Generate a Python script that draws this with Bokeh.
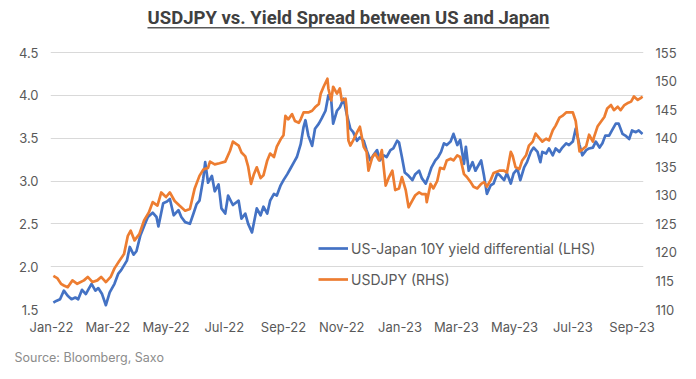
import pandas as pd
from bokeh.plotting import figure
from bokeh.models import (Range1d, LinearAxis, FixedTicker, NumeralTickFormatter,
                          DatetimeTickFormatter, Label, BoxAnnotation, Title)
from bokeh.embed import file_html
from bokeh.resources import INLINE

title_text = "USDJPY vs. Yield Spread between US and Japan"
source_text = "Source: Bloomberg, Saxo"
spread_name = "US-Japan 10Y yield differential (LHS)"
jpy_name = "USDJPY (RHS)"

spread_dates = [
    "2022-01-03", "2022-01-06", "2022-01-10", "2022-01-14", "2022-01-18", "2022-01-22", "2022-01-26", "2022-01-29",
    "2022-02-02", "2022-02-06", "2022-02-09", "2022-02-12", "2022-02-16", "2022-02-19", "2022-02-23", "2022-02-27",
    "2022-03-03", "2022-03-08", "2022-03-12", "2022-03-15", "2022-03-21", "2022-03-24", "2022-03-28", "2022-03-31",
    "2022-04-04", "2022-04-09", "2022-04-12", "2022-04-17", "2022-04-21", "2022-04-23", "2022-04-28", "2022-05-02",
    "2022-05-05", "2022-05-09", "2022-05-14", "2022-05-17", "2022-05-21", "2022-05-26", "2022-05-30", "2022-06-02",
    "2022-06-05", "2022-06-09", "2022-06-11", "2022-06-14", "2022-06-18", "2022-06-21", "2022-06-25", "2022-06-28",
    "2022-07-02", "2022-07-05", "2022-07-10", "2022-07-16", "2022-07-19", "2022-07-23", "2022-07-26", "2022-07-30",
    "2022-08-04", "2022-08-08", "2022-08-11", "2022-08-15", "2022-08-18", "2022-08-22", "2022-08-25", "2022-08-29",
    "2022-09-01", "2022-09-05", "2022-09-08", "2022-09-12", "2022-09-15", "2022-09-19", "2022-09-22", "2022-09-24",
    "2022-09-27", "2022-10-01", "2022-10-04", "2022-10-08", "2022-10-11", "2022-10-15", "2022-10-18", "2022-10-21",
    "2022-10-23", "2022-10-27", "2022-10-30", "2022-11-03", "2022-11-06", "2022-11-10", "2022-11-13", "2022-11-17",
    "2022-11-20", "2022-11-24", "2022-11-27", "2022-12-01", "2022-12-04", "2022-12-08", "2022-12-11", "2022-12-15",
    "2022-12-18", "2022-12-22", "2022-12-25", "2022-12-29", "2022-12-31", "2023-01-03", "2023-01-06", "2023-01-10",
    "2023-01-14", "2023-01-17", "2023-01-21", "2023-01-24", "2023-01-28", "2023-01-31", "2023-02-03", "2023-02-07",
    "2023-02-10", "2023-02-13", "2023-02-16", "2023-02-19", "2023-02-23", "2023-02-26", "2023-03-02", "2023-03-05",
    "2023-03-09", "2023-03-11", "2023-03-14", "2023-03-18", "2023-03-21", "2023-03-27", "2023-03-30", "2023-04-02",
    "2023-04-06", "2023-04-09", "2023-04-13", "2023-04-16", "2023-04-20", "2023-04-23", "2023-04-27", "2023-04-30",
    "2023-05-04", "2023-05-07", "2023-05-11", "2023-05-14", "2023-05-18", "2023-05-21", "2023-05-25", "2023-05-28",
    "2023-05-30", "2023-06-03", "2023-06-06", "2023-06-10", "2023-06-13", "2023-06-17", "2023-06-20", "2023-06-24",
    "2023-06-27", "2023-07-01", "2023-07-04", "2023-07-08", "2023-07-11", "2023-07-15", "2023-07-18", "2023-07-22",
    "2023-07-25", "2023-07-29", "2023-08-01", "2023-08-04", "2023-08-08", "2023-08-11", "2023-08-15", "2023-08-18",
    "2023-08-22", "2023-08-25", "2023-08-29", "2023-09-01", "2023-09-05", "2023-09-08", "2023-09-12",
]
spread_values = [
    1.58, 1.60, 1.62, 1.72, 1.66, 1.62, 1.64, 1.62,
    1.73, 1.68, 1.74, 1.80, 1.72, 1.75, 1.68, 1.55,
    1.70, 1.80, 1.92, 1.96, 2.07, 2.23, 2.14, 2.18,
    2.36, 2.50, 2.58, 2.63, 2.58, 2.47, 2.74, 2.76,
    2.79, 2.60, 2.66, 2.58, 2.52, 2.50, 2.63, 2.73,
    2.77, 3.03, 3.22, 2.98, 3.06, 2.88, 2.96, 2.68,
    2.62, 2.83, 2.72, 2.77, 2.56, 2.62, 2.50, 2.40,
    2.68, 2.60, 2.70, 2.62, 2.77, 2.85, 2.83, 2.95,
    3.01, 3.08, 3.14, 3.22, 3.28, 3.43, 3.63, 3.71,
    3.53, 3.41, 3.61, 3.67, 3.73, 3.82, 4.00, 3.94,
    3.67, 3.82, 3.86, 3.96, 3.79, 3.61, 3.57, 3.47,
    3.51, 3.47, 3.36, 3.24, 3.30, 3.36, 3.24, 3.30,
    3.28, 3.36, 3.38, 3.47, 3.45, 3.28, 3.10, 3.06,
    3.01, 3.08, 3.12, 3.03, 2.97, 3.06, 3.16, 3.24,
    3.28, 3.34, 3.44, 3.42, 3.46, 3.55, 3.42, 3.48,
    3.20, 3.40, 3.12, 3.22, 3.12, 3.24, 3.06, 2.85,
    2.95, 2.97, 3.09, 3.06, 3.01, 3.09, 2.97, 3.09,
    3.14, 3.01, 3.16, 3.22, 3.34, 3.39, 3.34, 3.22,
    3.34, 3.32, 3.38, 3.30, 3.38, 3.34, 3.39, 3.44,
    3.42, 3.46, 3.61, 3.42, 3.30, 3.36, 3.38, 3.39,
    3.46, 3.39, 3.44, 3.53, 3.53, 3.59, 3.67, 3.67,
    3.55, 3.53, 3.49, 3.59, 3.57, 3.59, 3.55,
]

jpy_dates = [
    "2022-01-03", "2022-01-07", "2022-01-11", "2022-01-14", "2022-01-18", "2022-01-23", "2022-01-28", "2022-02-04",
    "2022-02-08", "2022-02-13", "2022-02-18", "2022-02-22", "2022-02-27", "2022-03-04", "2022-03-08", "2022-03-13",
    "2022-03-18", "2022-03-22", "2022-03-25", "2022-03-29", "2022-04-03", "2022-04-08", "2022-04-13", "2022-04-17",
    "2022-04-22", "2022-04-26", "2022-05-01", "2022-05-05", "2022-05-10", "2022-05-15", "2022-05-21", "2022-05-26",
    "2022-05-31", "2022-06-05", "2022-06-09", "2022-06-14", "2022-06-16", "2022-06-21", "2022-06-26", "2022-07-02",
    "2022-07-07", "2022-07-10", "2022-07-16", "2022-07-19", "2022-07-23", "2022-07-26", "2022-07-29", "2022-08-01",
    "2022-08-04", "2022-08-08", "2022-08-11", "2022-08-15", "2022-08-18", "2022-08-22", "2022-08-25", "2022-08-29",
    "2022-09-01", "2022-09-03", "2022-09-06", "2022-09-10", "2022-09-13", "2022-09-17", "2022-09-19", "2022-09-22",
    "2022-09-27", "2022-10-01", "2022-10-04", "2022-10-08", "2022-10-10", "2022-10-13", "2022-10-17", "2022-10-18",
    "2022-10-21", "2022-10-23", "2022-10-27", "2022-10-30", "2022-11-01", "2022-11-05", "2022-11-06", "2022-11-08",
    "2022-11-10", "2022-11-13", "2022-11-17", "2022-11-20", "2022-11-24", "2022-11-27", "2022-11-29", "2022-12-03",
    "2022-12-06", "2022-12-10", "2022-12-13", "2022-12-17", "2022-12-20", "2022-12-24", "2022-12-27", "2022-12-31",
    "2023-01-03", "2023-01-07", "2023-01-10", "2023-01-14", "2023-01-17", "2023-01-21", "2023-01-24", "2023-01-28",
    "2023-01-29", "2023-02-02", "2023-02-05", "2023-02-09", "2023-02-12", "2023-02-16", "2023-02-19", "2023-02-23",
    "2023-02-26", "2023-03-02", "2023-03-05", "2023-03-09", "2023-03-12", "2023-03-16", "2023-03-19", "2023-03-23",
    "2023-03-27", "2023-03-30", "2023-04-02", "2023-04-06", "2023-04-09", "2023-04-15", "2023-04-20", "2023-04-23",
    "2023-04-27", "2023-04-29", "2023-05-02", "2023-05-06", "2023-05-09", "2023-05-13", "2023-05-16", "2023-05-20",
    "2023-05-23", "2023-05-26", "2023-05-30", "2023-06-03", "2023-06-06", "2023-06-10", "2023-06-13", "2023-06-17",
    "2023-06-20", "2023-06-24", "2023-06-27", "2023-07-01", "2023-07-04", "2023-07-08", "2023-07-11", "2023-07-15",
    "2023-07-18", "2023-07-22", "2023-07-23", "2023-07-27", "2023-07-30", "2023-08-03", "2023-08-06", "2023-08-10",
    "2023-08-13", "2023-08-17", "2023-08-20", "2023-08-24", "2023-08-27", "2023-08-31", "2023-09-03", "2023-09-07",
    "2023-09-10", "2023-09-12",
]
jpy_values = [
    115.9, 115.5, 114.5, 114.2, 113.9, 115.1, 114.5, 115.1,
    115.7, 114.8, 115.1, 115.7, 114.8, 115.7, 117.2, 118.5,
    119.7, 122.9, 123.8, 122.1, 123.2, 125.6, 127.0, 128.8,
    128.2, 130.5, 129.7, 130.5, 129.0, 128.2, 127.3, 127.6,
    131.2, 133.4, 134.5, 134.8, 135.9, 135.4, 135.6, 135.9,
    137.8, 139.4, 138.7, 137.5, 136.8, 135.0, 132.0, 133.7,
    134.9, 133.0, 133.5, 136.1, 137.3, 136.7, 138.5, 139.8,
    140.5, 143.9, 143.3, 144.2, 143.0, 142.7, 143.3, 144.5,
    144.5, 144.8, 145.4, 146.0, 147.8, 149.0, 150.4, 148.7,
    146.6, 149.0, 147.8, 148.7, 146.6, 146.9, 145.4, 139.6,
    138.7, 139.6, 141.0, 142.0, 138.5, 137.6, 134.3, 136.7,
    137.3, 136.1, 137.9, 131.7, 133.0, 134.3, 130.9, 131.2,
    133.2, 130.9, 127.9, 129.1, 130.0, 130.5, 130.2, 130.2,
    128.8, 132.0, 131.2, 132.5, 134.8, 134.6, 136.1, 136.4,
    136.1, 137.0, 136.7, 133.7, 133.2, 132.3, 131.5, 131.2,
    132.0, 132.3, 131.5, 132.7, 133.9, 134.3, 134.3, 134.0,
    137.6, 136.9, 134.9, 134.6, 136.1, 137.0, 138.7, 139.4,
    140.8, 140.2, 139.4, 139.9, 139.6, 141.4, 142.2, 143.6,
    143.9, 144.5, 144.5, 144.5, 143.0, 137.7, 138.0, 138.6,
    140.6, 139.4, 140.1, 142.1, 142.8, 143.7, 145.2, 145.8,
    144.9, 145.5, 144.9, 145.8, 146.1, 146.4, 147.3, 146.7,
    147.0, 147.3,
]

x_tick_dates = ["2022-01-01", "2022-03-01", "2022-05-01", "2022-07-01", "2022-09-01", "2022-11-01",
                "2023-01-01", "2023-03-01", "2023-05-01", "2023-07-01", "2023-09-01"]
left_ticks = [1.5, 2.0, 2.5, 3.0, 3.5, 4.0, 4.5]
right_ticks = [110, 115, 120, 125, 130, 135, 140, 145, 150, 155]

BLUE = "#4472C4"
ORANGE = "#ED7D31"
TXT = "#595959"
FONT = "Inter"

# frame: page x 50..643, y 4..309 ; 4.5 gridline sits at y=52
W, H = 696, 379
F_LEFT, F_RIGHT, F_TOP, F_BOTTOM = 50, 643, 4, 309
px_per_unit = (309 - 52) / (left_ticks[-1] - left_ticks[0])
left_top = left_ticks[0] + (F_BOTTOM - F_TOP) / px_per_unit
ratio = (right_ticks[-1] - right_ticks[0]) / (left_ticks[-1] - left_ticks[0])
right_top = right_ticks[0] + (left_top - left_ticks[0]) * ratio

x0 = pd.Timestamp("2021-12-31")
x1 = pd.Timestamp("2023-09-13")

p = figure(width=W, height=H, x_axis_type="datetime",
           x_range=Range1d(x0, x1), y_range=Range1d(left_ticks[0], left_top),
           output_backend="svg", toolbar_location=None, title=None,
           min_border_left=F_LEFT, min_border_right=W - F_RIGHT,
           min_border_top=F_TOP, min_border_bottom=H - F_BOTTOM)
p.extra_y_ranges = {"jpy": Range1d(right_ticks[0], right_top)}
p.outline_line_color = None
p.background_fill_color = "white"
p.border_fill_color = "white"

p.line(pd.to_datetime(spread_dates), spread_values, line_color=BLUE, line_width=2.7,
       line_join="round", legend_label=spread_name)
p.line(pd.to_datetime(jpy_dates), jpy_values, line_color=ORANGE, line_width=2.7,
       line_join="round", y_range_name="jpy", legend_label=jpy_name)

# axes
p.xaxis.ticker = FixedTicker(ticks=[pd.Timestamp(d).value / 1e6 for d in x_tick_dates])
p.xaxis.formatter = DatetimeTickFormatter(days="%b-%y", months="%b-%y", years="%b-%y")
p.yaxis.ticker = FixedTicker(ticks=left_ticks)
p.yaxis.formatter = NumeralTickFormatter(format="0.0")

right = LinearAxis(y_range_name="jpy", ticker=FixedTicker(ticks=right_ticks))
p.add_layout(right, "right")

for ax in p.axis:
    ax.axis_line_color = None
    ax.major_tick_line_color = None
    ax.minor_tick_line_color = None
    ax.major_tick_out = 0
    ax.major_label_text_color = TXT
    ax.major_label_text_font = FONT
    ax.major_label_text_font_size = "13px"
p.xaxis.major_label_standoff = 9
p.yaxis[0].major_label_standoff = 12
right.major_label_standoff = 12

p.xgrid.grid_line_color = None
p.ygrid.grid_line_color = "#d9d9d9"
p.ygrid.grid_line_width = 1

# legend
lg = p.legend[0]
lg.location = (268, 20)
lg.border_line_color = None
lg.background_fill_alpha = 0
lg.padding = 0
lg.margin = 0
lg.spacing = 11
lg.glyph_width = 30
lg.glyph_height = 20
lg.label_height = 20
lg.label_standoff = 3
lg.label_text_font = FONT
lg.label_text_font_size = "14px"
lg.label_text_color = TXT

# title with underline (inside the frame's upper band)
p.add_layout(Label(x=298, y=F_BOTTOM - 17, x_units="screen", y_units="screen", text=title_text,
                   text_align="center", text_baseline="middle", text_font="Roboto",
                   text_font_style="bold", text_font_size="18.5px", text_color="#404040"))
p.add_layout(BoxAnnotation(left=97, right=499, top=F_BOTTOM - 26.5, bottom=F_BOTTOM - 28,
                           left_units="screen", right_units="screen",
                           top_units="screen", bottom_units="screen",
                           fill_color="#595959", fill_alpha=1, line_alpha=0))

# source line below the axis
p.add_layout(Title(text=source_text, align="left", offset=-36, standoff=21,
                   text_font=FONT, text_font_size="12.5px", text_font_style="normal",
                   text_color="#8c8c8c"), "below")

open("out.html", "w").write(file_html(p, INLINE))
